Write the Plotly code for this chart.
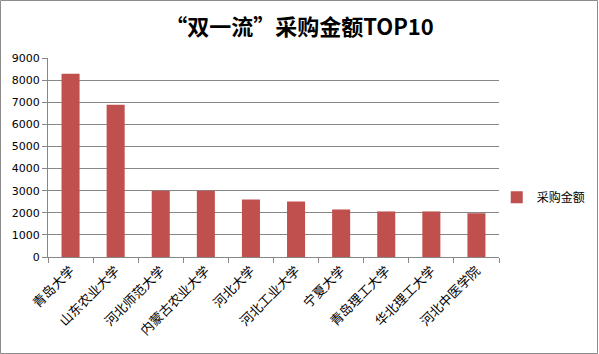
import plotly.graph_objects as go

categories = ["青岛大学", "山东农业大学", "河北师范大学", "内蒙古农业大学", "河北大学",
              "河北工业大学", "宁夏大学", "青岛理工大学", "华北理工大学", "河北中医学院"]
values = [8290, 6890, 3000, 3000, 2600, 2510, 2150, 2060, 2060, 1980]
series_name = "采购金额"
title_text = "“双一流”采购金额TOP10"
y_ticks = [0, 1000, 2000, 3000, 4000, 5000, 6000, 7000, 8000, 9000]

W, H = 599, 354
L, R, T, B = 48, 100, 58, 97

fig = go.Figure()
fig.add_trace(go.Bar(x=categories, y=values, name=series_name,
                     marker=dict(color="#C0504D", line=dict(width=0))))

pw = W - L - R
ph = H - T - B
fig.add_shape(type="rect", xref="paper", yref="paper",
              x0=-L / pw + 0.5 / pw, x1=1 + (R - 1.5) / pw,
              y0=-B / ph + 0.5 / ph, y1=1 + (T - 0.5) / ph,
              line=dict(color="#8c8c8c", width=1), layer="below")

fig.update_layout(
    width=W, height=H,
    margin=dict(l=L, r=R, t=T, b=B, autoexpand=False),
    paper_bgcolor="white", plot_bgcolor="white",
    title=dict(text=title_text, x=0.5, xanchor="center", y=1 - 27 / H, yanchor="middle",
               font=dict(family="Noto Sans CJK SC", size=22, color="#000000", weight="bold")),
    showlegend=True,
    legend=dict(x=0.995, y=0.30, xanchor="left", yanchor="middle",
                font=dict(family="Noto Sans CJK SC", size=12, color="#000"),
                itemwidth=30, bgcolor="rgba(0,0,0,0)"),
    bargap=0.6,
    xaxis=dict(type="category", showline=True, linecolor="#878787", linewidth=1,
               ticks="outside", tickson="boundaries", ticklen=5, tickcolor="#878787",
               tickangle=-45, showgrid=False, automargin=False,
               tickfont=dict(family="Noto Sans CJK SC", size=13, color="#000")),
    yaxis=dict(range=[0, 9000], tickvals=y_ticks, showline=True, linecolor="#878787",
               linewidth=1, ticks="outside", ticklen=5, tickcolor="#878787",
               showgrid=True, gridcolor="#878787", gridwidth=1, zeroline=False,
               automargin=False,
               tickfont=dict(family="DejaVu Sans", size=11, color="#000")),
)

fig.write_html("out.html")
